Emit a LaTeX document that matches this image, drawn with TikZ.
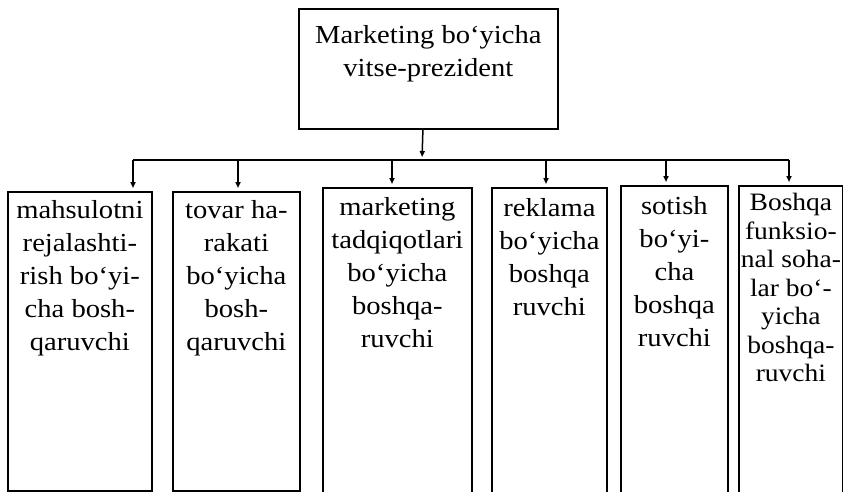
\documentclass[tikz,border=0pt]{standalone}
\usepackage{fontspec}
\setmainfont{Liberation Serif}[FakeStretch=1.1]
\usetikzlibrary{arrows.meta}
\begin{document}
\begin{tikzpicture}[x=1pt,y=-1pt,
  box/.style={draw,line width=1.8pt,rectangle,inner sep=0pt,anchor=north west},
  lbl/.style={anchor=north,inner sep=0pt,align=center,
    font=\fontsize{26}{33}\selectfont},
  lblnarrow/.style={lbl,font=\fontsize{25}{28.5}\selectfont},
  link/.style={line width=1.5pt},
  arr/.style={link,-{Triangle[length=6pt,width=5pt]},shorten >=3pt}]
\useasboundingbox (0,0) rectangle (843,492);
\clip (0,0) rectangle (843,492);

% head of the chart
\node[box,minimum width=259pt,minimum height=120pt] (top) at (298,8) {};
\node[lbl] at ([yshift=-17pt]top.north) {Marketing bo‘yicha\\vitse-prezident};

% distribution bar
\coordinate (t1) at (133,160);
\coordinate (t2) at (238,160);
\coordinate (t3) at (392,160);
\coordinate (t4) at (546,160);
\coordinate (t5) at (666,160);
\coordinate (t6) at (789,160);
\coordinate (tc) at (422,160);

% subordinate managers
\node[box,minimum width=144pt,minimum height=299pt] (b1) at (7,191) {};
\node[box,minimum width=127pt,minimum height=299pt] (b2) at (172,191) {};
\node[box,minimum width=149pt,minimum height=320pt] (b3) at (322,187) {};
\node[box,minimum width=115pt,minimum height=320pt] (b4) at (491,187) {};
\node[box,minimum width=107pt,minimum height=320pt] (b5) at (620,185) {};
\node[box,minimum width=104pt,minimum height=320pt] (b6) at (738,185) {};

\node[lbl] at ([yshift=-9pt]b1.north) {mahsulotni\\rejalashti-\\rish bo‘yi-\\cha bosh-\\qaruvchi};
\node[lbl] at ([yshift=-9pt]b2.north) {tovar ha-\\rakati\\bo‘yicha\\bosh-\\qaruvchi};
\node[lbl] at ([yshift=-10pt]b3.north) {marketing\\tadqiqotlari\\bo‘yicha\\boshqa-\\ruvchi};
\node[lbl] at ([yshift=-11pt]b4.north) {reklama\\bo‘yicha\\boshqa\\ruvchi};
\node[lbl] at ([yshift=-11pt]b5.north) {sotish\\bo‘yi-\\cha\\boshqa\\ruvchi};
\node[lblnarrow] at ([yshift=-8pt]b6.north) {Boshqa\\funksio-\\nal soha-\\lar bo‘-\\yicha\\boshqa-\\ruvchi};

% connectors
\draw[arr] ([xshift=-5.5pt]top.south) -- (tc);
\draw[link] (t1) -- (t6);
\draw[arr] (t1) -- (t1 |- b1.north);
\draw[arr] (t2) -- (t2 |- b2.north);
\draw[arr] (t3) -- (t3 |- b3.north);
\draw[arr] (t4) -- (t4 |- b4.north);
\draw[arr] (t5) -- (t5 |- b5.north);
\draw[arr] (t6) -- (t6 |- b6.north);
\end{tikzpicture}
\end{document}
